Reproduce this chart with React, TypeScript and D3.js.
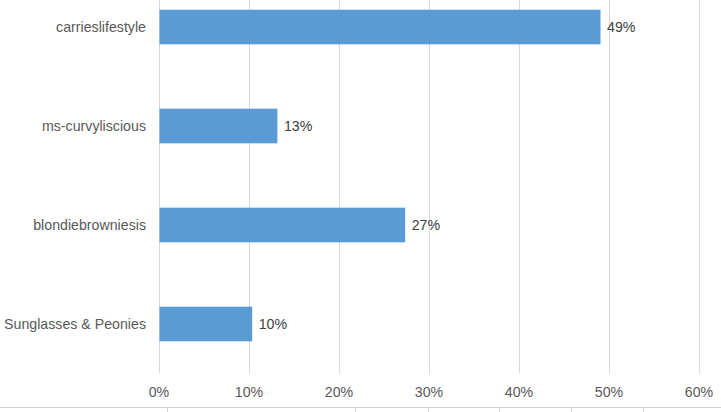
import React from 'react';
import * as d3 from 'd3';

const categories = ['carrieslifestyle', 'ms-curvyliscious', 'blondiebrowniesis', 'Sunglasses & Peonies'];
const values = [0.49, 0.131, 0.273, 0.103];
const valueLabels = ['49%', '13%', '27%', '10%'];
const xTicks = [0, 0.1, 0.2, 0.3, 0.4, 0.5, 0.6];
// spreadsheet cell borders showing under the chart
const cellBorders = [167, 355, 428, 499, 571, 643];

const width = 721;
const height = 412;
const margin = { top: -22.5, right: 22, bottom: 38.5, left: 159 };
const font = '"Liberation Sans", Arial, sans-serif';
const fontSize = 14.2;

const App: React.FC = () => {
  const x = d3
    .scaleLinear()
    .domain([0, 0.6])
    .range([margin.left, width - margin.right]);
  const y = d3
    .scaleBand<string>()
    .domain(categories)
    .range([margin.top, height - margin.bottom])
    .paddingInner(0.65)
    .paddingOuter(0.325);
  const plotBottom = height - margin.bottom;
  const fmt = d3.format('.0%');

  return (
    <svg
      width={width}
      height={height}
      style={{ position: 'absolute', left: 0, top: 0, background: '#fff' }}
      fontFamily={font}
    >
      {/* gridlines */}
      {xTicks.map((t) => (
        <line
          key={t}
          x1={Math.round(x(t)) + 0.5}
          x2={Math.round(x(t)) + 0.5}
          y1={0}
          y2={plotBottom}
          stroke="#d9d9d9"
          strokeWidth={1}
        />
      ))}
      {/* bars */}
      {categories.map((c, i) => (
        <rect
          key={c}
          x={x(0) + 0.5}
          y={y(c)!}
          width={x(values[i]) - x(0)}
          height={y.bandwidth()}
          fill="#5b9bd5"
        />
      ))}
      {/* value labels */}
      {categories.map((c, i) => (
        <text
          key={c}
          x={x(values[i]) + 7}
          y={y(c)! + y.bandwidth() / 2 + 5}
          fontSize={fontSize}
          fill="#404040"
        >
          {valueLabels[i]}
        </text>
      ))}
      {/* category labels */}
      {categories.map((c) => (
        <text
          key={c}
          x={margin.left - 13}
          y={y(c)! + y.bandwidth() / 2 + 5}
          fontSize={fontSize}
          fill="#595959"
          textAnchor="end"
        >
          {c}
        </text>
      ))}
      {/* x tick labels */}
      {xTicks.map((t) => (
        <text
          key={t}
          x={x(t)}
          y={plotBottom + 23}
          fontSize={fontSize}
          fill="#595959"
          textAnchor="middle"
        >
          {fmt(t)}
        </text>
      ))}
      {/* bottom border */}
      <line x1={0} x2={width} y1={407.5} y2={407.5} stroke="#d4d4d4" />
      {cellBorders.map((b) => (
        <line key={b} x1={b + 0.5} x2={b + 0.5} y1={408} y2={height} stroke="#d4d4d4" />
      ))}
    </svg>
  );
};

export default App;
